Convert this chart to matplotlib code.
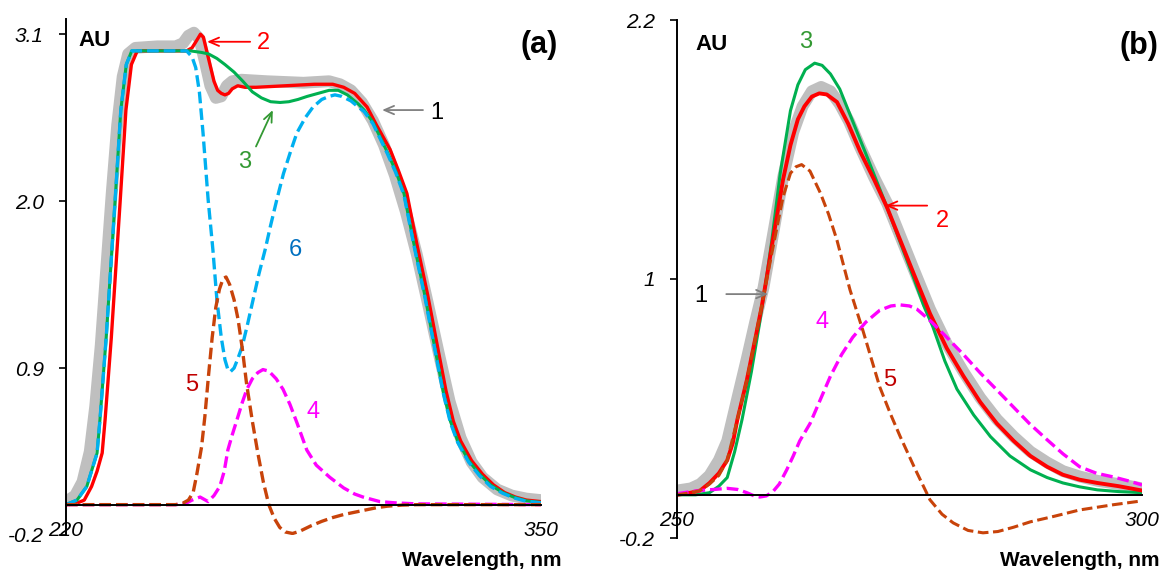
#Python libraries for math and graphics
import numpy as np
import matplotlib
matplotlib.use('Agg')
import matplotlib.pyplot as plt

plt.rcParams['font.family'] = ['Liberation Sans', 'DejaVu Sans']

#----------------- panel (a) data -----------------
wl_a1 = [220, 222.5, 224.5, 226.5, 228, 229.5, 231, 232.5, 234, 235.5, 237, 239, 245, 250, 252, 253.5, 255,
         256.5, 258, 259.5, 261, 262.5, 264, 265.5, 268, 275, 285, 292, 295, 298, 301, 304, 307, 310, 313,
         316, 319, 322, 325, 328, 331, 334, 338, 342, 346, 350]
au_a1 = [0.02, 0.06, 0.15, 0.35, 0.65, 1.05, 1.55, 2.05, 2.5, 2.82, 2.97, 3.01, 3.02, 3.02, 3.04, 3.09, 3.11,
         3.07, 2.92, 2.76, 2.68, 2.69, 2.76, 2.79, 2.80, 2.79, 2.78, 2.79, 2.77, 2.73, 2.65, 2.53, 2.37, 2.17, 1.93,
         1.65, 1.33, 1.0, 0.68, 0.44, 0.28, 0.18, 0.10, 0.06, 0.04, 0.03]

wl_a2 = [220, 223, 225, 227, 228.5, 229.9, 230.7, 232.4, 234.8, 236.4, 237.9, 239.5, 245, 253, 254.5, 255.8,
         256.8, 257.6, 258.6, 259.6, 260.5, 261.5, 262.5, 263.5, 264.5, 265.5, 267, 269, 272, 280, 288, 293,
         296, 299, 302.4, 305, 308.7, 311, 313.3, 316, 319, 322, 324, 326, 328, 331, 334, 337, 340, 343, 346, 350]
au_a2 = [0.0, 0.01, 0.03, 0.12, 0.22, 0.34, 0.56, 1.1, 1.99, 2.6, 2.9, 2.99, 2.99, 2.99, 3.01, 3.06,
         3.10, 3.08, 2.98, 2.88, 2.79, 2.73, 2.71, 2.70, 2.71, 2.74, 2.76, 2.75, 2.75, 2.76, 2.77, 2.77,
         2.75, 2.71, 2.62, 2.50, 2.34, 2.2, 2.05, 1.72, 1.38, 1.0, 0.75, 0.55, 0.42, 0.29, 0.2, 0.13, 0.08, 0.05, 0.03, 0.02]

wl_a3 = [220, 223, 225.7, 228.5, 229.3, 231, 233.4, 235, 236.5, 238, 245, 254, 257, 259, 261.3, 263.5, 266,
         268.4, 271, 273.5, 276, 278.6, 281, 283.5, 286, 289, 292, 294.5, 297, 300, 301.6, 304, 308, 310.2,
         312.5, 315.2, 318.2, 321.2, 323.2, 325.2, 327.2, 330.2, 333.2, 336.2, 339.5, 342.5, 346, 350]
au_a3 = [0.0, 0.03, 0.12, 0.34, 0.56, 1.1, 1.99, 2.6, 2.9, 2.99, 2.99, 2.99, 2.98, 2.97, 2.94, 2.90, 2.85,
         2.79, 2.72, 2.68, 2.655, 2.65, 2.655, 2.67, 2.69, 2.71, 2.73, 2.73, 2.70, 2.64, 2.60, 2.52, 2.32, 2.2,
         2.05, 1.72, 1.38, 1.0, 0.75, 0.55, 0.42, 0.29, 0.2, 0.13, 0.08, 0.05, 0.025, 0.015]

wl_a6 = [220, 223, 225.7, 228.5, 229.3, 231, 233.4, 235, 236.5, 238, 245, 253, 254.5, 255.5, 256.5, 257.5,
         258.9, 260.2, 261.3, 262.5, 263.5, 264.3, 265, 266, 267, 268.2, 269.7, 271.2, 272.8, 274.5, 276,
         277.7, 279.5, 281.5, 283.2, 285.5, 287.6, 290, 292, 293.6, 295.5, 298, 300, 301.6, 304, 308, 310.2,
         312.5, 315.2, 318.2, 321.2, 323.2, 325.2, 327.2, 330.2, 333.2, 336.2, 339.5, 342.5, 346, 350]
au_a6 = [0.0, 0.03, 0.12, 0.34, 0.56, 1.1, 1.99, 2.6, 2.9, 2.99, 2.99, 2.99, 2.95, 2.88, 2.72, 2.45,
         2.01, 1.68, 1.35, 1.1, 0.955, 0.89, 0.876, 0.9, 0.96, 1.04, 1.19, 1.35, 1.52, 1.68, 1.84,
         2.01, 2.18, 2.33, 2.45, 2.55, 2.62, 2.67, 2.69, 2.70, 2.69, 2.66, 2.62, 2.59, 2.51, 2.31, 2.19,
         2.04, 1.71, 1.37, 0.99, 0.74, 0.54, 0.41, 0.28, 0.19, 0.12, 0.075, 0.045, 0.022, 0.012]

wl_a4 = [220, 250, 252.5, 254.5, 256.7, 258.9, 260.5, 262.1, 263.3, 264.3, 265.5, 266.8, 268.2, 269.5, 271,
         272.5, 273.9, 275.5, 277.5, 279.4, 281.3, 283.2, 285.9, 288.5, 292.2, 296, 299, 301.3, 305.9, 310,
         316, 350]
au_a4 = [0, 0, 0.005, 0.03, 0.05, 0.02, 0.06, 0.12, 0.22, 0.36, 0.46, 0.56, 0.67, 0.76, 0.83,
         0.87, 0.89, 0.88, 0.83, 0.76, 0.66, 0.54, 0.36, 0.26, 0.18, 0.11, 0.07, 0.05, 0.02, 0.012,
         0.005, 0]

wl_a5 = [220, 250, 252, 253.5, 254.8, 255.8, 257.1, 258, 259, 260, 261, 262, 263, 263.8, 264.8, 266, 267.1,
         268.3, 269.4, 271, 272.5, 274, 275.5, 277, 278.5, 280, 282, 284, 287, 290, 293, 296, 299, 302, 305,
         308, 312, 316, 350]
au_a5 = [0, 0, 0.01, 0.03, 0.08, 0.2, 0.38, 0.58, 0.85, 1.1, 1.3, 1.42, 1.49, 1.50, 1.45, 1.35, 1.22,
         1.02, 0.8, 0.55, 0.34, 0.15, 0.0, -0.09, -0.15, -0.18, -0.19, -0.175, -0.14, -0.11, -0.085, -0.065,
         -0.05, -0.035, -0.02, -0.01, -0.003, 0, 0]

#----------------- panel (b) data -----------------
wl_b1 = [250, 251.5, 252.5, 253.5, 254.5, 255.4, 256.5, 257.5, 258.4, 259.3, 260.3, 261.4, 262.5, 263.5,
         264.5, 265.5, 266.5, 267.5, 268.5, 269.7, 271.2, 272.6, 274, 275.4, 277.2, 279, 280.8, 282.6, 284.4,
         286.2, 288, 289.8, 291.5, 293.3, 295.2, 297.5, 300]
au_b1 = [0.02, 0.03, 0.05, 0.09, 0.16, 0.25, 0.45, 0.63, 0.80, 0.96, 1.2, 1.47, 1.68, 1.80,
         1.87, 1.89, 1.87, 1.81, 1.73, 1.61, 1.47, 1.35, 1.2, 1.05, 0.86, 0.70, 0.57, 0.45, 0.35,
         0.27, 0.2, 0.15, 0.11, 0.085, 0.065, 0.05, 0.03]

wl_b2 = [250, 251.5, 252.5, 253.5, 254.5, 255.4, 256, 256.5, 257.5, 258.4, 259.1, 259.7, 260.3, 260.9,
         261.4, 262.2, 263, 263.7, 264.5, 265.3, 266.1, 267.2, 268.4, 269.7, 271.2, 272.6, 274, 275.4, 277.2,
         279, 280.8, 282.6, 284.4, 286.2, 288, 289.8, 291.5, 293.3, 295.2, 297.5, 300]
au_b2 = [0.0, 0.01, 0.02, 0.055, 0.1, 0.16, 0.24, 0.35, 0.53, 0.72, 0.87, 1.02, 1.18, 1.33,
         1.46, 1.62, 1.74, 1.80, 1.845, 1.86, 1.855, 1.82, 1.72, 1.59, 1.46, 1.33, 1.18, 1.03, 0.84,
         0.68, 0.55, 0.43, 0.33, 0.25, 0.18, 0.13, 0.093, 0.07, 0.055, 0.04, 0.02]

wl_b3 = [250, 252, 253.5, 254.5, 255.4, 256.2, 257, 258, 258.9, 259.6, 260.2, 261.1, 262.2, 263, 263.8,
         264.8, 265.6, 266.5, 267.5, 268.9, 270.4, 271.5, 272.6, 274, 275.4, 276.5, 277.5, 278.8, 280.1,
         281.9, 283.7, 285.8, 288, 289.8, 291.5, 293.3, 295.2, 297.5, 300]
au_b3 = [0.0, 0.0, 0.01, 0.04, 0.08, 0.2, 0.35, 0.57, 0.80, 1.0, 1.18, 1.49, 1.78, 1.90, 1.97,
         2.00, 1.99, 1.95, 1.88, 1.73, 1.57, 1.45, 1.33, 1.17, 1.01, 0.88, 0.78, 0.62, 0.49,
         0.37, 0.27, 0.18, 0.116, 0.08, 0.055, 0.037, 0.023, 0.015, 0.01]

wl_b4 = [250, 251.5, 252.5, 254, 255.4, 256.5, 257.5, 258.3, 258.9, 259.6, 260.3, 261, 261.8, 262.5, 263.2,
         264.3, 265.4, 266.5, 267.7, 268.9, 270.3, 271.8, 273, 274, 275, 275.8, 277.4, 279, 280.8, 282.6,
         284.3, 286.1, 287.9, 289.8, 291.5, 293.3, 295.1, 296.9, 298.5, 300]
au_b4 = [0.005, 0.015, 0.02, 0.025, 0.03, 0.025, 0.01, -0.005, -0.01, -0.005, 0.014, 0.05, 0.116, 0.18, 0.25,
         0.33, 0.44, 0.55, 0.65, 0.73, 0.8, 0.855, 0.875, 0.88, 0.875, 0.86, 0.8, 0.73, 0.65, 0.565,
         0.49, 0.41, 0.33, 0.255, 0.19, 0.13, 0.1, 0.083, 0.065, 0.046]

wl_b5 = [250, 251.5, 252.5, 253.5, 254.5, 255.4, 256.5, 257.5, 258.4, 259.3, 260.2, 261.4, 262.2, 262.8,
         263.4, 264.3, 265.4, 266.3, 267.2, 268.6, 270, 271.8, 273, 274, 275.6, 277.2, 278.5, 279.7, 281.3,
         282.9, 284.5, 286.2, 288, 290.5, 293.3, 296.9, 300]
au_b5 = [0.0, 0.01, 0.02, 0.05, 0.09, 0.16, 0.35, 0.53, 0.72, 0.92, 1.12, 1.38, 1.49, 1.52,
         1.53, 1.50, 1.40, 1.30, 1.18, 0.95, 0.76, 0.50, 0.37, 0.27, 0.12, -0.023, -0.09, -0.13, -0.165,
         -0.176, -0.17, -0.15, -0.125, -0.1, -0.07, -0.046, -0.028]

#colors
c_grey = '#BFBFBF'
c_red = '#FF0000'
c_green = '#00B050'
c_blue = '#00B0F0'
c_brown = '#C8430A'
c_mag = '#FF00FF'

fig = plt.figure(figsize=(11.63, 5.73), dpi=100)
ax1 = fig.add_axes([66/1163, 1-535/573, 475/1163, 516/573])
ax2 = fig.add_axes([677/1163, 1-538/573, 465/1163, 518/573])

dash = (3.5, 1.5)

#panel (a)
ax1.plot(wl_a1, au_a1, color=c_grey, lw=8.5, solid_capstyle='butt')
ax1.plot(wl_a2, au_a2, color=c_red, lw=2.4)
ax1.plot(wl_a3, au_a3, color=c_green, lw=2.2)
ax1.plot(wl_a6, au_a6, color=c_blue, lw=2.4, dashes=dash)
ax1.plot(wl_a4, au_a4, color=c_mag, lw=2.4, dashes=dash)
ax1.plot(wl_a5, au_a5, color=c_brown, lw=2.4, dashes=dash)

#panel (b)
ax2.plot(wl_b1, au_b1, color=c_grey, lw=8.5, solid_capstyle='butt')
ax2.plot(wl_b3, au_b3, color=c_green, lw=2.2)
ax2.plot(wl_b2, au_b2, color=c_red, lw=2.8)
ax2.plot(wl_b4, au_b4, color=c_mag, lw=2.4, dashes=dash)
ax2.plot(wl_b5, au_b5, color=c_brown, lw=2.2, dashes=dash)

#axes styling
def style_axes(ax, xlim, ylim, yticks, ylabels, xticks):
    ax.set_xlim(*xlim)
    ax.set_ylim(*ylim)
    for s in ['top', 'right']:
        ax.spines[s].set_visible(False)
    ax.spines['left'].set_linewidth(1.4)
    ax.spines['bottom'].set_position(('data', 0))
    ax.spines['bottom'].set_linewidth(1.4)
    ax.set_yticks(yticks)
    ax.set_yticklabels(ylabels, fontstyle='italic', fontsize=15)
    ax.set_xticks(xticks)
    ax.set_xticklabels([str(t) for t in xticks], fontstyle='italic', fontsize=15)
    ax.tick_params(axis='y', direction='out', length=5, width=1.2, pad=11)
    ax.tick_params(axis='x', length=0, pad=12)
    ax.patch.set_visible(False)

style_axes(ax1, (220, 350), (-0.2, 3.2), [-0.2, 0.9, 2.0, 3.1], ['-0.2', '0.9', '2.0', '3.1'], [220, 350])
style_axes(ax2, (250, 300), (-0.2, 2.2), [-0.2, 1, 2.2], ['-0.2', '1', '2.2'], [250, 300])

#titles and axis texts
fig.text(78/1163, 1-40/573, 'AU', fontsize=16, fontweight='bold', ha='left', va='center')
fig.text(695/1163, 1-44/573, 'AU', fontsize=16, fontweight='bold', ha='left', va='center')
fig.text(558/1163, 1-45/573, '(a)', fontsize=22, fontweight='bold', ha='right', va='center')
fig.text(1158/1163, 1-46/573, '(b)', fontsize=22, fontweight='bold', ha='right', va='center')
fig.text(562/1163, 1-561/573, 'Wavelength, nm', fontsize=15, fontweight='bold', ha='right', va='center')
fig.text(1160/1163, 1-561/573, 'Wavelength, nm', fontsize=15, fontweight='bold', ha='right', va='center')

#curve labels and arrows
def arrow(ax, tail, head, color):
    ax.annotate('', xy=head, xytext=tail,
                arrowprops=dict(arrowstyle='->,head_length=0.7,head_width=0.3', color=color, lw=1.3,
                                shrinkA=0, shrinkB=0))

arrow(ax1, (270.4, 3.05), (258.6, 3.05), c_red)
ax1.text(273.9, 3.04, '2', color=c_red, fontsize=17, ha='center', va='center')
arrow(ax1, (272.0, 2.36), (276.6, 2.60), '#339933')
ax1.text(269.0, 2.26, '3', color='#339933', fontsize=17, ha='center', va='center')
arrow(ax1, (317.7, 2.60), (306.5, 2.60), '#808080')
ax1.text(321.5, 2.58, '1', color='black', fontsize=17, ha='center', va='center')
ax1.text(282.9, 1.68, '6', color='#0070C0', fontsize=17, ha='center', va='center')
ax1.text(254.5, 0.79, '5', color='#C00000', fontsize=17, ha='center', va='center')
ax1.text(287.6, 0.61, '4', color=c_mag, fontsize=17, ha='center', va='center')

ax2.text(263.8, 2.10, '3', color='#339933', fontsize=17, ha='center', va='center')
arrow(ax2, (276.9, 1.34), (272.4, 1.34), c_red)
ax2.text(278.5, 1.27, '2', color=c_red, fontsize=17, ha='center', va='center')
arrow(ax2, (255.3, 0.93), (259.8, 0.93), '#808080')
ax2.text(252.6, 0.92, '1', color='black', fontsize=17, ha='center', va='center')
ax2.text(265.6, 0.80, '4', color=c_mag, fontsize=17, ha='center', va='center')
ax2.text(272.9, 0.53, '5', color='#C00000', fontsize=17, ha='center', va='center')

plt.savefig('out.png', dpi=100)
